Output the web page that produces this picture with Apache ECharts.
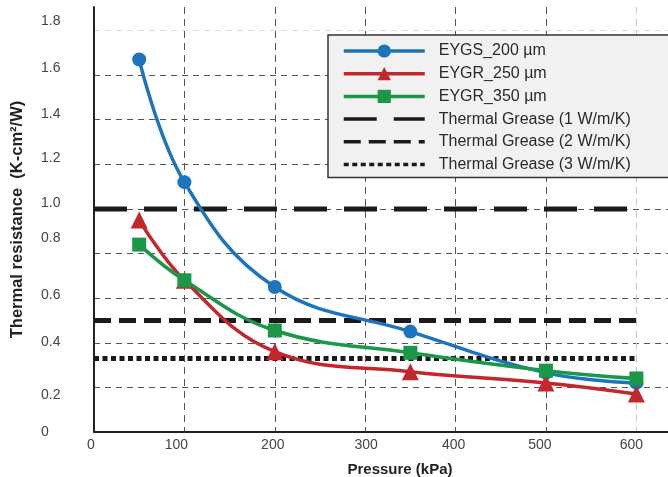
<!DOCTYPE html>
<html>
<head>
<meta charset="utf-8">
<script src="https://cdn.jsdelivr.net/npm/echarts@6/dist/echarts.min.js"></script>
<style>
html,body{margin:0;padding:0;background:#fff;}
#chart{width:668px;height:477px;}
</style>
</head>
<body>
<div id="chart"></div>
<script>
// ---- data ----
const pressure = [50, 100, 200, 350, 500, 600];
const eygs200 = [1.67, 1.12, 0.65, 0.45, 0.265, 0.22];
const eygr250 = [0.95, 0.68, 0.36, 0.27, 0.22, 0.17];
const eygr350 = [0.84, 0.68, 0.455, 0.355, 0.275, 0.24];
const greaseNames = ['Thermal Grease (1 W/m/K)', 'Thermal Grease (2 W/m/K)', 'Thermal Grease (3 W/m/K)'];
const greaseValues = [1.0, 0.5, 0.33];
const greaseRange = [0, 600];
const seriesNames = ['EYGS_200 µm', 'EYGR_250 µm', 'EYGR_350 µm'];
const yTickLabels = ['0', '0.2', '0.4', '0.6', '0.8', '1.0', '1.2', '1.4', '1.6', '1.8'];
const xTickLabels = ['0', '100', '200', '300', '400', '500', '600'];

// ---- style (label nudges, in px) ----
const yShift = {'0': 0, '0.2': 8, '0.4': -1, '0.6': -3, '0.8': -15, '1.0': -6, '1.2': -6, '1.4': -6, '1.6': -7, '1.8': -9};
const xShift = {'0': -3, '100': -8, '200': -2, '300': 1, '400': -2, '500': -6, '600': -5};
const FONT = "'Liberation Sans', Arial, Helvetica, sans-serif";
const LABEL_COLOR = '#444';

const yRich = {}, xRich = {};
yTickLabels.forEach((t, i) => {
  const s = yShift[t] || 0;
  yRich['y' + i] = {fontSize: 14, color: LABEL_COLOR, fontFamily: FONT,
    padding: s < 0 ? [0, 0, -2 * s, 0] : [2 * s, 0, 0, 0]};
});
xTickLabels.forEach((t, i) => {
  const s = xShift[t] || 0;
  xRich['x' + i] = {fontSize: 14, color: LABEL_COLOR, fontFamily: FONT,
    padding: s < 0 ? [0, -2 * s, 0, 0] : [0, 0, 0, 2 * s]};
});

const colors = ['#1c75bc', '#c1272d', '#1a9747'];
const symbols = ['circle', 'triangle', 'rect'];
const symbolSizes = [14, 17, 14];
const greaseDash = [[33, 17], [17, 8], [5, 3.5]];

const series = [];
[eygs200, eygr250, eygr350].forEach((vals, i) => {
  series.push({
    name: seriesNames[i], type: 'line', smooth: 0.4, z: 4,
    data: pressure.map((p, k) => [p, vals[k]]),
    symbol: symbols[i], symbolSize: symbolSizes[i],
    lineStyle: {color: colors[i], width: 3.5},
    itemStyle: {color: colors[i], borderWidth: 0},
    emphasis: {disabled: true}
  });
});
greaseValues.forEach((v, i) => {
  series.push({
    name: greaseNames[i], type: 'line', z: 2, symbol: 'none',
    data: greaseRange.map(x => [x, v]),
    lineStyle: {color: '#1a1a1a', width: 5, type: greaseDash[i], cap: 'butt'},
    itemStyle: {color: '#1a1a1a'},
    emphasis: {disabled: true}
  });
});

const legendData = seriesNames.map(n => ({name: n, lineStyle: {width: 3.5}}))
  .concat(greaseNames.map(n => ({name: n, lineStyle: {width: 3.5},
    itemStyle: {color: 'rgba(0,0,0,0)', opacity: 0, borderWidth: 0}})));

const chart = echarts.init(document.getElementById('chart'), null, {renderer: 'canvas'});
chart.setOption({
  animation: false,
  backgroundColor: '#fff',
  grid: {left: 94, right: 0, top: 7, bottom: 45, containLabel: false, outerBoundsMode: 'none'},
  legend: {
    orient: 'vertical', left: 328, top: 35,
    data: legendData,
    itemWidth: 81, itemHeight: 16.5, itemGap: 6.7,
    padding: [8, 80, 5, 14],
    backgroundColor: '#f1f1f1', borderColor: '#333', borderWidth: 1.5, borderRadius: 0,
    lineStyle: {width: 'inherit'},
    textStyle: {fontSize: 16, color: '#2a2a2a', fontFamily: FONT, padding: [0, 0, 0, 9], lineHeight: 16},
    selectedMode: false
  },
  xAxis: {
    type: 'value', min: 0, max: 635, interval: 100,
    name: 'Pressure (kPa)', nameLocation: 'middle', nameGap: 30,
    nameTextStyle: {fontSize: 15, fontWeight: 'bold', color: '#222', fontFamily: FONT, padding: [0, 0, 0, 38]},
    axisLine: {show: true, onZero: false, lineStyle: {color: '#222', width: 2}},
    axisTick: {show: false},
    axisLabel: {
      margin: 6,
      formatter: v => { const i = xTickLabels.indexOf(String(v)); return i < 0 ? '' : '{x' + i + '|' + xTickLabels[i] + '}'; },
      rich: xRich
    },
    splitLine: {show: true, lineStyle: {
      color: ['rgba(0,0,0,0)', '#555', '#555', '#555', '#555', '#555', '#c8c8c8', 'rgba(0,0,0,0)'],
      width: 1, type: [7, 5]}}
  },
  yAxis: {
    type: 'value', min: 0, max: 1.905, interval: 0.2,
    name: 'Thermal resistance  (K-cm²/W)', nameLocation: 'middle', nameGap: 68,
    nameTextStyle: {fontSize: 16.5, fontWeight: 'bold', color: '#222', fontFamily: FONT},
    axisLine: {show: true, onZero: false, lineStyle: {color: '#222', width: 2}},
    axisTick: {show: false},
    axisLabel: {
      margin: 53, align: 'left',
      formatter: v => {
        const t = v === 0 ? '0' : v.toFixed(1);
        const i = yTickLabels.indexOf(t);
        if (i < 0 || Math.abs(Number(t) - v) > 1e-6) return '';
        return '{y' + i + '|' + t + '}';
      },
      rich: yRich
    },
    splitLine: {show: true, lineStyle: {
      color: ['rgba(0,0,0,0)', '#555', '#555', '#555', '#555', '#555', '#555', '#555', '#555', '#dcdcdc', 'rgba(0,0,0,0)'],
      width: 1, type: [6, 5]}}
  },
  series: series
});
</script>
</body>
</html>
